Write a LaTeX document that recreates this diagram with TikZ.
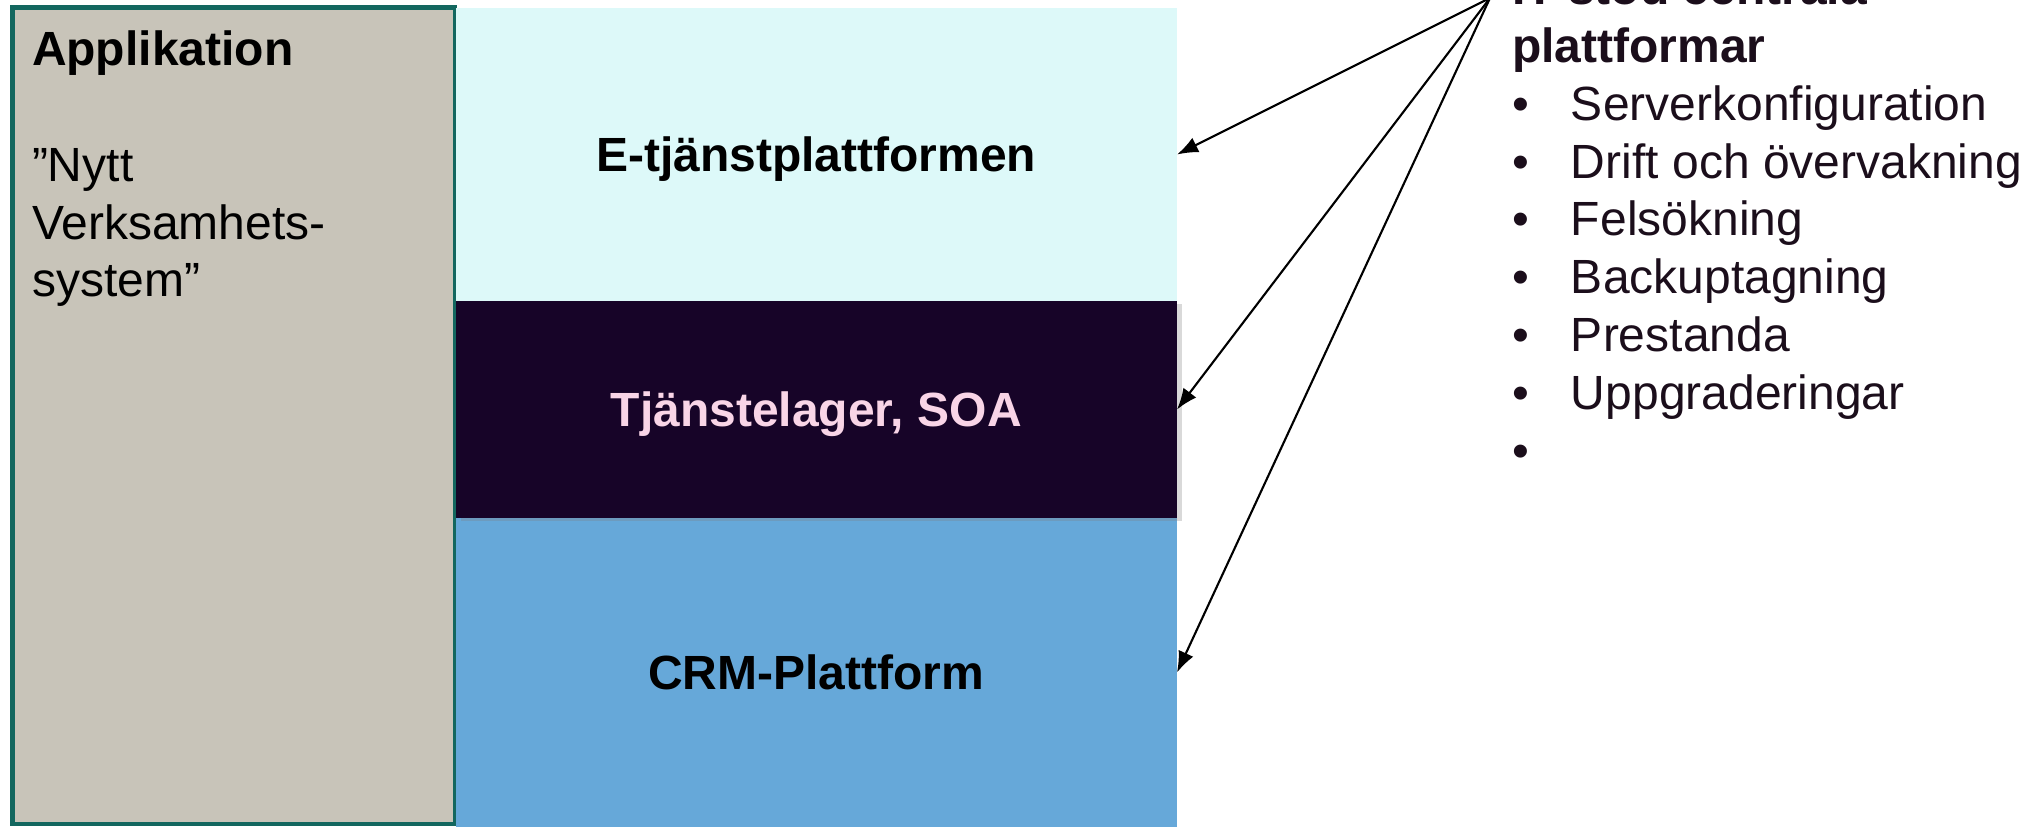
\documentclass[tikz,border=0pt]{standalone}
\usepackage{fontspec}
\setmainfont{Liberation Sans}
\usetikzlibrary{arrows.meta,positioning,shadows}

\definecolor{appfill}{HTML}{C8C4B9}
\definecolor{appborder}{HTML}{13675F}
\definecolor{etjfill}{HTML}{DDF9F9}
\definecolor{soafill}{HTML}{170428}
\definecolor{soatext}{HTML}{F9D5E7}
\definecolor{crmfill}{HTML}{66A8D9}
\definecolor{listtext}{HTML}{1B0E1B}

\newcommand{\listpunkt}[1]{\makebox[0.59cm][l]{\textbullet}#1}

\begin{document}
\begin{tikzpicture}[layer/.style={minimum width=7.215cm, inner sep=0pt, outer sep=0pt, text height=9.8pt, text depth=0pt, font=\bfseries\fontsize{13.66}{16.44}\selectfont},
	pil/.style={-{Latex[length=6pt,width=4.6pt]}, line width=0.6pt, draw=black},
	txt/.style={inner sep=0pt, outer sep=0pt, align=left, font=\fontsize{13.66}{16.44}\selectfont}]
		\useasboundingbox (0,0) rectangle (20.36,8.27);

		% applikation till vanster
		\node[draw=appborder, line width=1.4pt, fill=appfill, minimum width=4.425cm, minimum height=8.165cm, inner sep=0pt] (app) at (2.3375,4.1125) {};
		\node[txt, anchor=north west] (apptext) at (0.32,7.96) {\textbf{Applikation}\\[16.44pt]”Nytt\\Verksamhets-\\system”};

		% plattformar
		\node[layer, fill=etjfill, minimum height=2.93cm] (etj) at (8.1625,6.725) {E-tjänstplattformen};
		\node[layer, fill=crmfill, minimum height=3.09cm] (crm) at (8.1625,1.545) {CRM-Plattform};
		\node[layer, fill=soafill, text=soatext, minimum height=2.17cm, below=0pt of etj,
			drop shadow={shadow xshift=0.05cm, shadow yshift=-0.03cm, opacity=0.3}] (soa) {Tjänstelager, SOA};

		% stod
		\node[txt, text=listtext, anchor=north west] (lista) at (15.12,8.57) {\textbf{IT-stöd centrala}\\\textbf{plattformar}\\\listpunkt{Serverkonfiguration}\\\listpunkt{Drift och övervakning}\\\listpunkt{Felsökning}\\\listpunkt{Backuptagning}\\\listpunkt{Prestanda}\\\listpunkt{Uppgraderingar}\\\listpunkt{}};

		\coordinate (kalla) at (14.90,8.29);
		\draw[pil] (kalla) -- (etj.east);
		\draw[pil] (kalla) -- (soa.east);
		\draw[pil] (kalla) -- (crm.east);
	\end{tikzpicture}
\end{document}
